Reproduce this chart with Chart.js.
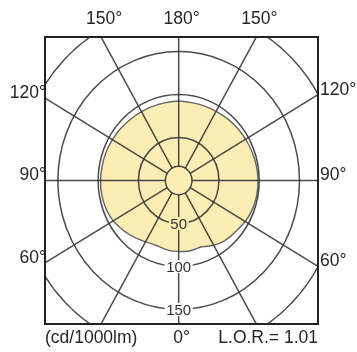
<!DOCTYPE html>
<html>
<head>
<meta charset="utf-8">
<script src="https://cdn.jsdelivr.net/npm/chart.js@4.4.1/dist/chart.umd.min.js"></script>
<style>
html,body{margin:0;padding:0;background:#fff;}
#wrap{width:357px;height:352px;position:relative;}
</style>
</head>
<body>
<div id="wrap"><canvas id="c" width="357" height="352"></canvas></div>
<script>
// gamma angles (deg, 0 = straight down, 180 = straight up)
const gammaDeg = [0,5,10,15,20,25,30,35,40,45,50,60,70,80,90,100,110,120,130,140,150,160,170,180];
// luminous intensity, cd/1000lm, right half of the diagram
const intensityRight = [82.5,83,83,82.5,82,84.5,87,89,90.5,91.5,92.5,95.5,97.5,98.5,98.5,98,97,96,95,94,93,92.5,92,92.5];
// luminous intensity, cd/1000lm, left half of the diagram
const intensityLeft  = [82.5,82.5,82,81,80.5,81,82.5,84,86,88,90,94,96,97,97,96.5,96,95,94,93,92.5,92,92,92.5];
// grid rings (cd/1000lm) and labelled rings
const ringValues = [50,100,150,200];
const ringLabels = [50,100,150];
const innerCircle = 16.5;
// spoke angles
const spokeDeg = [0,30,60,90,120,150,180,210,240,270,300,330];
// outer angle labels
const topLabels = ['150°','180°','150°'];
const sideLabels = ['120°','90°','60°'];
const bottomCenterLabel = '0°';
const unitLabel = '(cd/1000lm)';
const lorLabel = 'L.O.R.= 1.01';

const FILL = '#fbeeb4';
const GRID = 'rgba(50,50,50,0.88)';
const TXT = '#262626';

// build the closed curve
const rad = d => d*Math.PI/180;
const curve = [];
gammaDeg.forEach((g,i)=>{ curve.push({x: intensityRight[i]*Math.sin(rad(g)), y: -intensityRight[i]*Math.cos(rad(g))}); });
for (let i = gammaDeg.length-2; i >= 0; i--) {
  const g = gammaDeg[i];
  curve.push({x: -intensityLeft[i]*Math.sin(rad(g)), y: -intensityLeft[i]*Math.cos(rad(g))});
}

const gridPlugin = {
  id: 'polarGrid',
  afterDatasetsDraw(chart) {
    const {ctx, chartArea: a, scales: {x, y}} = chart;
    const cx = x.getPixelForValue(0), cy = y.getPixelForValue(0);
    const rx = v => x.getPixelForValue(v) - cx;
    const ry = v => cy - y.getPixelForValue(v);
    ctx.save();
    ctx.beginPath(); ctx.rect(a.left, a.top, a.right-a.left, a.bottom-a.top); ctx.clip();
    ctx.strokeStyle = GRID; ctx.lineWidth = 1.5;
    ringValues.forEach(v => { ctx.beginPath(); ctx.ellipse(cx, cy, rx(v), ry(v), 0, 0, Math.PI*2); ctx.stroke(); });
    ctx.beginPath(); ctx.ellipse(cx, cy, rx(innerCircle), ry(innerCircle), 0, 0, Math.PI*2); ctx.stroke();
    spokeDeg.forEach(d => {
      const s = Math.sin(rad(d)), c = -Math.cos(rad(d));
      ctx.beginPath();
      ctx.moveTo(x.getPixelForValue(innerCircle*s), y.getPixelForValue(innerCircle*c));
      ctx.lineTo(x.getPixelForValue(400*s), y.getPixelForValue(400*c));
      ctx.stroke();
    });
    // ring labels
    ctx.font = '15px "Liberation Sans", Arial, sans-serif';
    ctx.textAlign = 'center'; ctx.textBaseline = 'middle';
    const bottomI = intensityRight[0];
    ringLabels.forEach(v => {
      const px = cx, py = y.getPixelForValue(-v);
      const t = String(v), w = ctx.measureText(t).width;
      ctx.fillStyle = v < bottomI ? FILL : '#ffffff';
      ctx.fillRect(px - w/2 - 1.5, py - 6.5, w + 3, 13);
      ctx.fillStyle = '#333';
      ctx.fillText(t, px, py + 1);
    });
    ctx.restore();
    // frame
    ctx.save();
    ctx.strokeStyle = '#222'; ctx.lineWidth = 2;
    ctx.strokeRect(a.left, a.top, a.right-a.left, a.bottom-a.top);
    // outer labels
    ctx.fillStyle = TXT;
    ctx.font = '17.5px "Liberation Sans", Arial, sans-serif';
    ctx.textBaseline = 'middle';
    ctx.textAlign = 'center';
    const t30 = Math.tan(rad(30));
    const yTop = y.max;
    const topXs = [-yTop*t30, 0, yTop*t30];
    topLabels.forEach((t,i) => ctx.fillText(t, x.getPixelForValue(topXs[i]) + 3, a.top - 18));
    const xL = x.min, xR = x.max;
    const sideY = [1/Math.sqrt(3), 0, -1/Math.sqrt(3)];
    sideLabels.forEach((t,i) => {
      ctx.textAlign = 'right';
      ctx.fillText(t, a.left + 1, y.getPixelForValue(-xL*sideY[i]) - 5);
      ctx.textAlign = 'left';
      ctx.fillText(t, a.right + 2, y.getPixelForValue(xR*sideY[i]) - 5);
    });
    ctx.textAlign = 'center';
    ctx.fillText(bottomCenterLabel, cx + 3, a.bottom + 14);
    ctx.textAlign = 'left';
    ctx.fillText(unitLabel, a.left, a.bottom + 14);
    ctx.textAlign = 'right';
    ctx.fillText(lorLabel, a.right, a.bottom + 14);
    ctx.restore();
  }
};

new Chart(document.getElementById('c'), {
  type: 'scatter',
  data: {
    datasets: [{
      data: curve,
      showLine: true,
      fill: 'shape',
      backgroundColor: FILL,
      borderColor: 'rgba(85,85,85,0.9)',
      borderWidth: 1.4,
      pointRadius: 0,
      tension: 0.2
    }]
  },
  options: {
    responsive: false,
    animation: false,
    layout: {padding: {left: 45, right: 39, top: 37, bottom: 28}},
    plugins: {legend: {display: false}, tooltip: {enabled: false}},
    scales: {
      x: {type: 'linear', min: -166, max: 173, display: false},
      y: {type: 'linear', min: -167, max: 167, display: false}
    }
  },
  plugins: [gridPlugin]
});
</script>
</body>
</html>
